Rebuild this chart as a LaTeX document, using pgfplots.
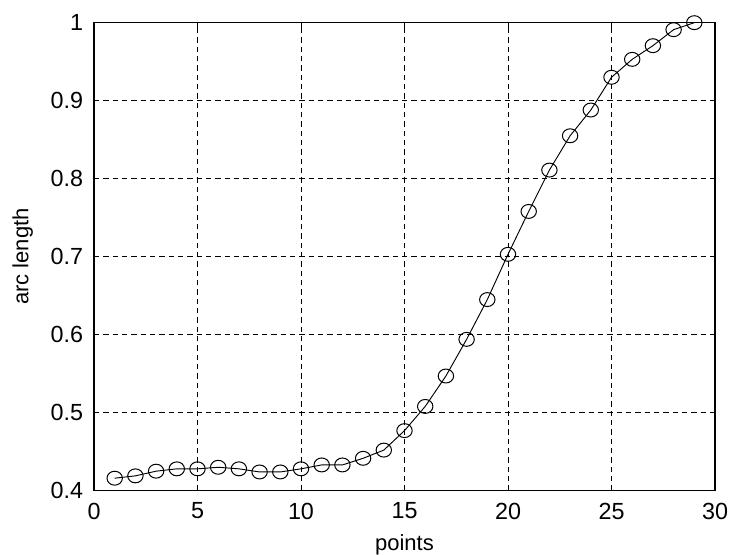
\documentclass[border=0pt]{standalone}
\usepackage{fontspec}
\setmainfont{Liberation Sans}
\usepackage{pgfplots}
\pgfplotsset{compat=1.18}
\begin{document}
\begin{tikzpicture}
\useasboundingbox (-70.5pt,-47.5pt) rectangle (477pt,368pt);
\begin{axis}[
  scale only axis,
  width=465.75pt, height=351pt,
  xmin=0, xmax=30, ymin=0.4, ymax=1,
  xtick={0,5,...,30},
  ytick={0.4,0.5,...,1.0},
  yticklabels={0.4,0.5,0.6,0.7,0.8,0.9,1},
  xticklabels={0,5,10,15,20,25,30},
  grid=major,
  major grid style={black, line width=0.7pt, dash pattern=on 4pt off 3pt},
  tick align=inside,
  tick pos=both,
  major tick length=4pt,
  axis line style={black, line width=0.8pt},
  tick style={black, line width=0.7pt},
  ticklabel style={font=\fontsize{17.5}{20}\selectfont, inner sep=0pt},
  xticklabel style={anchor=north, yshift=-9pt},
  yticklabel style={anchor=east, xshift=-8pt},
  label style={font=\fontsize{16.5}{20}\selectfont, inner sep=0pt},
  xlabel={points},
  ylabel={arc length},
  xlabel style={at={([yshift=-44.5pt]axis description cs:0.5,0)}, anchor=base},
  ylabel style={at={([xshift=-45.5pt]axis description cs:0,0.5)}, anchor=south},
  /pgf/number format/assume math mode=true,
]
\addplot[black, line width=0.7pt, mark=o, mark size=5.5pt, mark options={line width=0.75pt, xscale=1.05, yscale=0.95}] coordinates {
(1,0.416) (2,0.419) (3,0.425) (4,0.428) (5,0.428) (6,0.430) (7,0.428)
(8,0.424) (9,0.424) (10,0.428) (11,0.433) (12,0.433) (13,0.4415) (14,0.452)
(15,0.477) (16,0.508) (17,0.547) (18,0.594) (19,0.645) (20,0.703)
(21,0.758) (22,0.811) (23,0.855) (24,0.888) (25,0.930) (26,0.953)
(27,0.9705) (28,0.991) (29,1.000)
};
\end{axis}
\end{tikzpicture}
\end{document}
